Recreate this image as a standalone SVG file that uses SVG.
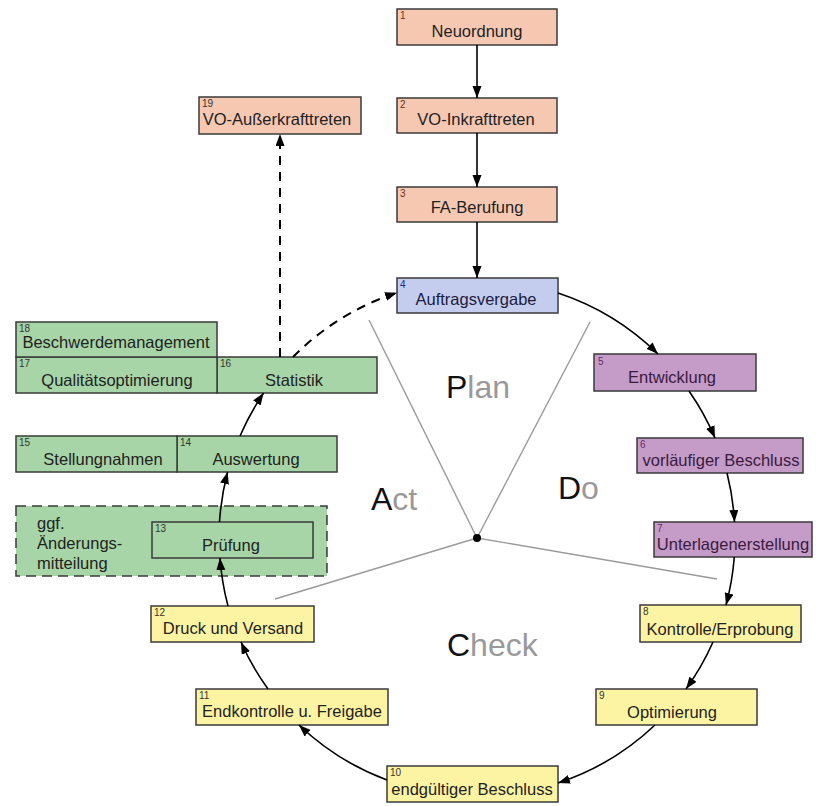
<svg xmlns="http://www.w3.org/2000/svg" width="816" height="806" viewBox="0 0 816 806">
<defs>
<marker id="ah" markerUnits="userSpaceOnUse" markerWidth="13" markerHeight="10" refX="12" refY="4.5" orient="auto">
<path d="M0,0 L12,4.5 L0,9 z" fill="#000" stroke="none"/>
</marker>
<style>
.bx{stroke:#3a3a3a;stroke-width:1.5}
.sal{fill:#f6c8b2}
.blu{fill:#c5cdee}
.pur{fill:#c59bc7}
.yel{fill:#fdf4a3}
.grn{fill:#a7d5a7}
.t{font-family:"Liberation Sans",Arial,sans-serif;font-size:16.5px;text-anchor:middle;fill:#222}
.tl{font-family:"Liberation Sans",Arial,sans-serif;font-size:16.5px;fill:#222}
.n{font-family:"Liberation Sans",Arial,sans-serif;font-size:10px;fill:#333}
.tp{fill:#3a1a40}
.np{fill:#6a2a70}
.tb{fill:#1a2040}
.nb{fill:#1a2a7a}
.ns{fill:#6a3020}
.c{fill:none;stroke:#000;stroke-width:1.6}
.d{stroke-dasharray:9 7;stroke-width:2}
.g{stroke:#9a9a9a;stroke-width:1.4;fill:none}
.big{font-family:"Liberation Sans",Arial,sans-serif;font-size:32px}
.lt{fill:#999}
</style>
</defs>
<rect width="816" height="806" fill="#fff"/>

<g id="pdca">
<line class="g" x1="477" y1="538" x2="369" y2="320"/>
<line class="g" x1="477" y1="538" x2="590" y2="322"/>
<line class="g" x1="477" y1="538" x2="275" y2="599"/>
<line class="g" x1="477" y1="538" x2="717" y2="579"/>
<circle cx="477" cy="538" r="4" fill="#000"/>
<text class="big" x="446" y="398" fill="#111">P<tspan class="lt">lan</tspan></text>
<text class="big" x="558" y="499" fill="#111">D<tspan class="lt">o</tspan></text>
<text class="big" x="371" y="510" fill="#111">A<tspan class="lt">ct</tspan></text>
<text class="big" x="447" y="656" fill="#111">C<tspan class="lt">heck</tspan></text>
</g>

<g id="n20">
<rect class="bx grn" x="16" y="506" width="311" height="70" stroke-dasharray="10 6" stroke-width="2"/>
<text class="tl" x="37" y="529">ggf.</text>
<text class="tl" x="37" y="549">Änderungs-</text>
<text class="tl" x="37" y="569">mitteilung</text>
</g>

<g id="n1"><rect class="bx sal" x="397" y="9" width="160" height="36"/><text class="n ns" x="400" y="19">1</text><text class="t" x="477" y="37">Neuordnung</text></g>
<g id="n2"><rect class="bx sal" x="397" y="98" width="160" height="35"/><text class="n ns" x="400" y="108">2</text><text class="t" x="476" y="125">VO-Inkrafttreten</text></g>
<g id="n3"><rect class="bx sal" x="397" y="187" width="160" height="35"/><text class="n ns" x="400" y="197">3</text><text class="t" x="477" y="213">FA-Berufung</text></g>
<g id="n4"><rect class="bx blu" x="397" y="278" width="161" height="35"/><text class="n nb" x="400" y="288">4</text><text class="t tb" x="476" y="305">Auftragsvergabe</text></g>
<g id="n5"><rect class="bx pur" x="594" y="354" width="162" height="37"/><text class="n np" x="598" y="365">5</text><text class="t tp" x="672" y="383">Entwicklung</text></g>
<g id="n6"><rect class="bx pur" x="637" y="438" width="166" height="35"/><text class="n np" x="640" y="448">6</text><text class="t tp" x="721" y="466">vorläufiger Beschluss</text></g>
<g id="n7"><rect class="bx pur" x="654" y="522" width="158" height="35"/><text class="n np" x="657" y="532">7</text><text class="t tp" x="733" y="550">Unterlagenerstellung</text></g>
<g id="n8"><rect class="bx yel" x="640" y="605" width="161" height="37"/><text class="n" x="643" y="615">8</text><text class="t" x="720" y="635">Kontrolle/Erprobung</text></g>
<g id="n9"><rect class="bx yel" x="596" y="689" width="161" height="36"/><text class="n" x="599" y="699">9</text><text class="t" x="672" y="718">Optimierung</text></g>
<g id="n10"><rect class="bx yel" x="387" y="766" width="171" height="36"/><text class="n" x="390" y="776">10</text><text class="t" x="472" y="795">endgültiger Beschluss</text></g>
<g id="n11"><rect class="bx yel" x="196" y="689" width="192" height="36"/><text class="n" x="199" y="699">11</text><text class="t" x="292" y="717">Endkontrolle u. Freigabe</text></g>
<g id="n12"><rect class="bx yel" x="151" y="606" width="163" height="36"/><text class="n" x="154" y="616">12</text><text class="t" x="233" y="634">Druck und Versand</text></g>
<g id="n13"><rect class="bx grn" x="152" y="522" width="161" height="36"/><text class="n" x="155" y="532">13</text><text class="t" x="231" y="551">Prüfung</text></g>
<g id="n14"><rect class="bx grn" x="177" y="436" width="160" height="36"/><text class="n" x="180" y="446">14</text><text class="t" x="256" y="465">Auswertung</text></g>
<g id="n15"><rect class="bx grn" x="16" y="436" width="161" height="36"/><text class="n" x="19" y="446">15</text><text class="t" x="103" y="465">Stellungnahmen</text></g>
<g id="n16"><rect class="bx grn" x="217" y="357" width="160" height="36"/><text class="n" x="220" y="367">16</text><text class="t" x="294" y="386">Statistik</text></g>
<g id="n17"><rect class="bx grn" x="16" y="357" width="201" height="36"/><text class="n" x="19" y="367">17</text><text class="t" x="117" y="386">Qualitätsoptimierung</text></g>
<g id="n18"><rect class="bx grn" x="16" y="322" width="201" height="35"/><text class="n" x="19" y="332">18</text><text class="t" x="116" y="348">Beschwerdemanagement</text></g>
<g id="n19"><rect class="bx sal" x="199" y="97" width="162" height="37"/><text class="n" x="202" y="107">19</text><text class="t" x="277" y="125">VO-Außerkrafttreten</text></g>

<g id="connectors">
<line class="c" x1="477" y1="45" x2="477" y2="98" marker-end="url(#ah)"/>
<line class="c" x1="477" y1="133" x2="477" y2="187" marker-end="url(#ah)"/>
<line class="c" x1="477" y1="222" x2="477" y2="278" marker-end="url(#ah)"/>
<path class="c" d="M558,293 A258,258 0 0 1 658,354" marker-end="url(#ah)"/>
<path class="c" d="M689,391 A258,258 0 0 1 715,438" marker-end="url(#ah)"/>
<path class="c" d="M727,473 A258,258 0 0 1 734.5,522" marker-end="url(#ah)"/>
<path class="c" d="M734.3,557 A258,258 0 0 1 726,605" marker-end="url(#ah)"/>
<path class="c" d="M713,642 A258,258 0 0 1 686,689" marker-end="url(#ah)"/>
<path class="c" d="M655,725 A258,258 0 0 1 558,783" marker-end="url(#ah)"/>
<path class="c" d="M387,780 A258,258 0 0 1 299,725" marker-end="url(#ah)"/>
<path class="c" d="M268,689 A258,258 0 0 1 241,642" marker-end="url(#ah)"/>
<path class="c" d="M228,606 A258,258 0 0 1 220,558" marker-end="url(#ah)"/>
<path class="c" d="M219.5,522 A258,258 0 0 1 227.6,472" marker-end="url(#ah)"/>
<path class="c" d="M240,436 A258,258 0 0 1 263.6,393" marker-end="url(#ah)"/>
<path class="c d" d="M293,357 A258,258 0 0 1 397,292.7" marker-end="url(#ah)"/>
<line class="c d" x1="280" y1="357" x2="280" y2="134" marker-end="url(#ah)"/>
</g>
</svg>
